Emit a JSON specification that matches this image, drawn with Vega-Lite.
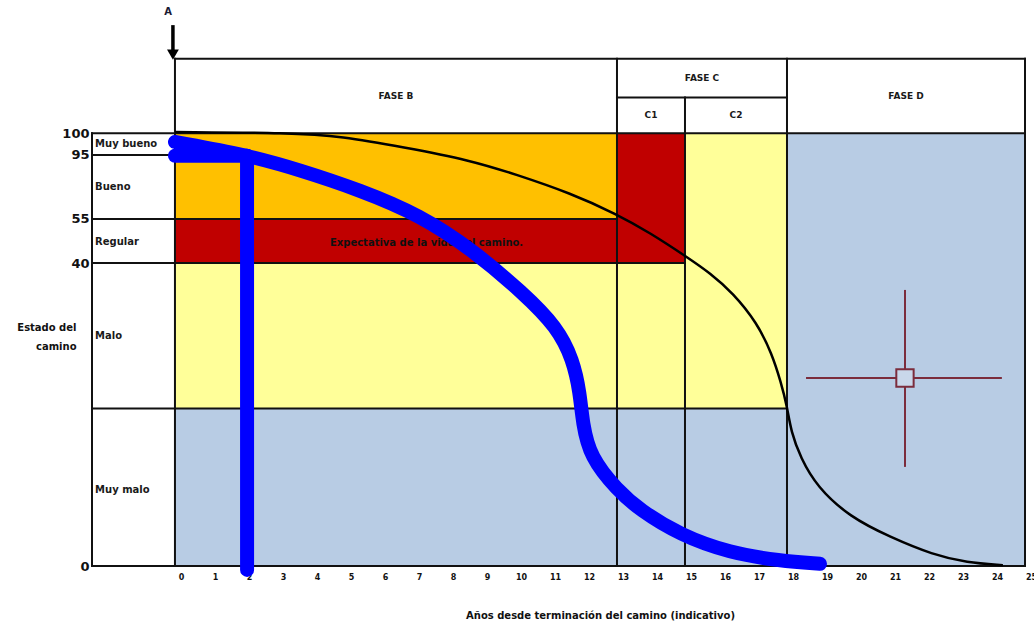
{
  "$schema": "https://vega.github.io/schema/vega-lite/v6.json",
  "width": 933,
  "height": 561,
  "autosize": {"type": "none"},
  "padding": {"left": 92, "top": 5, "right": 9, "bottom": 59},
  "background": "white",
  "config": {
    "view": {"stroke": null},
    "font": "DejaVu Sans",
    "axis": {"labelFont": "DejaVu Sans", "titleFont": "DejaVu Sans"},
    "axisX": {"labelOverlap": false, "labelOffset": 6, "labelFlush": false},
    "text": {"font": "DejaVu Sans"}
  },
  "datasets": {
    "zonas": [
      {"x": 0, "x2": 13, "y": 80.2, "y2": 100, "zona": "Bueno"},
      {"x": 0, "x2": 13, "y": 70, "y2": 80.2, "zona": "Regular"},
      {"x": 13, "x2": 15, "y": 70, "y2": 100, "zona": "Regular"},
      {"x": 0, "x2": 18, "y": 36.4, "y2": 70, "zona": "Malo"},
      {"x": 15, "x2": 18, "y": 70, "y2": 100, "zona": "Malo"},
      {"x": 0, "x2": 18, "y": 0, "y2": 36.4, "zona": "Muy malo"},
      {"x": 18, "x2": 25, "y": 0, "y2": 100, "zona": "Muy malo"}
    ],
    "lineas": [
      {"x": 0, "x2": 25, "y": 117.2, "y2": 117.2},
      {"x": 13, "x2": 18, "y": 108.3, "y2": 108.3},
      {"x": -2.44, "x2": 25, "y": 100, "y2": 100},
      {"x": -2.44, "x2": 0, "y": 95, "y2": 95},
      {"x": -2.44, "x2": 13, "y": 80.2, "y2": 80.2},
      {"x": -2.44, "x2": 15, "y": 70, "y2": 70},
      {"x": -2.44, "x2": 18, "y": 36.4, "y2": 36.4},
      {"x": -2.44, "x2": 25, "y": 0, "y2": 0},
      {"x": -2.44, "x2": -2.44, "y": 0, "y2": 100},
      {"x": 0, "x2": 0, "y": 0, "y2": 117.2},
      {"x": 13, "x2": 13, "y": 0, "y2": 117.2},
      {"x": 15, "x2": 15, "y": 0, "y2": 108.3},
      {"x": 18, "x2": 18, "y": 0, "y2": 117.2},
      {"x": 25, "x2": 25, "y": 0, "y2": 117.2}
    ],
    "negra": [
      {"o": 1, "x": 0, "y": 100.3},
      {"o": 2, "x": 3.4, "y": 100.1},
      {"o": 3, "x": 4.9, "y": 99.3},
      {"o": 4, "x": 6.71, "y": 96.8},
      {"o": 5, "x": 8.68, "y": 93.8},
      {"o": 6, "x": 10.06, "y": 90.4},
      {"o": 7, "x": 11.62, "y": 86.2},
      {"o": 8, "x": 13.0, "y": 81.3},
      {"o": 9, "x": 13.97, "y": 77.0},
      {"o": 10, "x": 15.06, "y": 71.4},
      {"o": 11, "x": 15.74, "y": 67.7},
      {"o": 12, "x": 16.41, "y": 63.1},
      {"o": 13, "x": 17.12, "y": 56.2},
      {"o": 14, "x": 17.56, "y": 49.0},
      {"o": 15, "x": 17.82, "y": 42.5},
      {"o": 16, "x": 18.0, "y": 37.0},
      {"o": 17, "x": 18.12, "y": 31.0},
      {"o": 18, "x": 18.4, "y": 25.0},
      {"o": 19, "x": 18.88, "y": 18.3},
      {"o": 20, "x": 19.85, "y": 11.3},
      {"o": 21, "x": 21.03, "y": 6.7},
      {"o": 22, "x": 22.29, "y": 2.6},
      {"o": 23, "x": 23.29, "y": 0.8},
      {"o": 24, "x": 24.35, "y": 0.2}
    ],
    "azul": [
      {"tramo": "curva", "o": 1, "x": 0, "y": 98.0},
      {"tramo": "curva", "o": 2, "x": 2.12, "y": 95.0},
      {"tramo": "curva", "o": 3, "x": 3.68, "y": 91.5},
      {"tramo": "curva", "o": 4, "x": 5.44, "y": 86.9},
      {"tramo": "curva", "o": 5, "x": 7.21, "y": 81.1},
      {"tramo": "curva", "o": 6, "x": 8.76, "y": 73.0},
      {"tramo": "curva", "o": 7, "x": 10.24, "y": 63.1},
      {"tramo": "curva", "o": 8, "x": 11.24, "y": 55.2},
      {"tramo": "curva", "o": 9, "x": 11.71, "y": 47.6},
      {"tramo": "curva", "o": 10, "x": 11.91, "y": 40.0},
      {"tramo": "curva", "o": 11, "x": 11.99, "y": 33.0},
      {"tramo": "curva", "o": 12, "x": 12.21, "y": 25.2},
      {"tramo": "curva", "o": 13, "x": 13.0, "y": 17.6},
      {"tramo": "curva", "o": 14, "x": 13.68, "y": 12.9},
      {"tramo": "curva", "o": 15, "x": 14.85, "y": 7.2},
      {"tramo": "curva", "o": 16, "x": 16.32, "y": 3.0},
      {"tramo": "curva", "o": 17, "x": 17.79, "y": 1.2},
      {"tramo": "curva", "o": 18, "x": 18.97, "y": 0.5},
      {"tramo": "rama", "o": 1, "x": 0, "y": 94.8},
      {"tramo": "rama", "o": 2, "x": 2.12, "y": 94.8},
      {"tramo": "barra", "o": 1, "x": 2.12, "y": 94.8},
      {"tramo": "barra", "o": 2, "x": 2.121, "y": -0.9}
    ],
    "cruz": [
      {"x": 18.56, "x2": 24.32, "y": 43.45, "y2": 43.45},
      {"x": 21.47, "x2": 21.47, "y": 22.9, "y2": 63.8}
    ],
    "centro": [{"x": 21.47, "y": 43.45}],
    "flecha": [{"x": -0.06, "x2": -0.06, "y": 118.5, "y2": 125.0}],
    "punta": [{"x": -0.06, "y": 118.2}],
    "letraA": [{"x": -0.2, "y": 128.0, "texto": "A"}],
    "encabezados": [
      {"x": 6.5, "y": 108.6, "texto": "FASE B"},
      {"x": 15.5, "y": 112.75, "texto": "FASE C"},
      {"x": 14, "y": 104.15, "texto": "C1"},
      {"x": 16.5, "y": 104.15, "texto": "C2"},
      {"x": 21.5, "y": 108.6, "texto": "FASE D"}
    ],
    "estados": [
      {"x": -2.35, "y": 97.5, "texto": "Muy bueno"},
      {"x": -2.35, "y": 87.6, "texto": "Bueno"},
      {"x": -2.35, "y": 74.9, "texto": "Regular"},
      {"x": -2.35, "y": 53.2, "texto": "Malo"},
      {"x": -2.35, "y": 17.6, "texto": "Muy malo"}
    ],
    "banda": [{"x": 7.4, "y": 74.6, "texto": "Expectativa de la vida del camino."}]
  },
  "layer": [
    {
      "data": {"name": "zonas"},
      "mark": {"type": "rect"},
      "encoding": {
        "x": {
          "field": "x", "type": "quantitative",
          "scale": {"domain": [-2.44, 25], "nice": false, "zero": false},
          "axis": {
            "values": [0,1,2,3,4,5,6,7,8,9,10,11,12,13,14,15,16,17,18,19,20,21,22,23,24,25],
            "tickCount": 28,
            "labelExpr": "datum.value < 0 ? '' : datum.label",
            "grid": false, "domain": false, "ticks": false, "tickSize": 0,
            "labelFontSize": 8, "labelFontWeight": "bold", "labelColor": "#111",
            "labelPadding": 7, "labelOffset": 6, "labelFlush": false, "labelOverlap": false,
            "title": "Años desde terminación del camino (indicativo)",
            "titleFontSize": 10, "titleFontWeight": "bold", "titleColor": "#111",
            "titleX": 508, "titleY": 49, "titleAlign": "center", "titleBaseline": "middle"
          }
        },
        "x2": {"field": "x2"},
        "y": {
          "field": "y", "type": "quantitative",
          "scale": {"domain": [0, 129.65], "nice": false, "zero": false},
          "axis": {
            "values": [0, 70, 80.2, 95, 100],
            "labelExpr": "datum.value == 80.2 ? '55' : datum.value == 70 ? '40' : datum.label",
            "grid": false, "domain": false, "ticks": false, "tickSize": 0,
            "labelFontSize": 13, "labelFontWeight": "bold", "labelColor": "#111",
            "labelPadding": 3, "labelFlush": false, "labelOverlap": false,
            "title": ["Estado del", "camino"],
            "titleAngle": 0, "titleAlign": "right", "titleBaseline": "middle",
            "titleX": -16, "titleY": 322, "titleFontSize": 10, "titleFontWeight": "bold",
            "titleLineHeight": 19, "titleColor": "#111"
          }
        },
        "y2": {"field": "y2"},
        "color": {
          "field": "zona", "type": "nominal",
          "scale": {"domain": ["Bueno", "Regular", "Malo", "Muy malo"], "range": ["#FFC000", "#C00000", "#FFFF99", "#B8CCE4"]},
          "legend": null
        }
      }
    },
    {
      "data": {"name": "lineas"},
      "mark": {"type": "rule", "color": "#111", "strokeWidth": 2, "strokeCap": "square"},
      "encoding": {
        "x": {"field": "x", "type": "quantitative", "scale": {"domain": [-2.44, 25], "nice": false, "zero": false}},
        "x2": {"field": "x2"},
        "y": {"field": "y", "type": "quantitative", "scale": {"domain": [0, 129.65], "nice": false, "zero": false}},
        "y2": {"field": "y2"}
      }
    },
    {
      "data": {"name": "banda"},
      "mark": {"type": "text", "fontSize": 10, "fontWeight": "bold", "color": "#111", "align": "center", "baseline": "middle"},
      "encoding": {
        "x": {"field": "x", "type": "quantitative"},
        "y": {"field": "y", "type": "quantitative"},
        "text": {"field": "texto"}
      }
    },
    {
      "data": {"name": "negra"},
      "mark": {"type": "line", "color": "#000", "strokeWidth": 2.5, "interpolate": "basis"},
      "encoding": {
        "x": {"field": "x", "type": "quantitative"},
        "y": {"field": "y", "type": "quantitative"},
        "order": {"field": "o", "type": "quantitative"}
      }
    },
    {
      "data": {"name": "cruz"},
      "mark": {"type": "rule", "color": "#7b2c3c", "strokeWidth": 2},
      "encoding": {
        "x": {"field": "x", "type": "quantitative"},
        "x2": {"field": "x2"},
        "y": {"field": "y", "type": "quantitative"},
        "y2": {"field": "y2"}
      }
    },
    {
      "data": {"name": "centro"},
      "mark": {"type": "point", "shape": "square", "size": 300, "filled": true, "fill": "#c9d7ea", "stroke": "#7b2c3c", "strokeWidth": 2, "opacity": 1},
      "encoding": {
        "x": {"field": "x", "type": "quantitative"},
        "y": {"field": "y", "type": "quantitative"}
      }
    },
    {
      "data": {"name": "azul"},
      "mark": {"type": "line", "color": "#0000FF", "strokeWidth": 14, "strokeCap": "round", "strokeJoin": "round", "interpolate": "basis"},
      "encoding": {
        "x": {"field": "x", "type": "quantitative"},
        "y": {"field": "y", "type": "quantitative"},
        "detail": {"field": "tramo", "type": "nominal"},
        "order": {"field": "o", "type": "quantitative"}
      }
    },
    {
      "data": {"name": "flecha"},
      "mark": {"type": "rule", "color": "#000", "strokeWidth": 3.5},
      "encoding": {
        "x": {"field": "x", "type": "quantitative"},
        "x2": {"field": "x2"},
        "y": {"field": "y", "type": "quantitative"},
        "y2": {"field": "y2"}
      }
    },
    {
      "data": {"name": "punta"},
      "mark": {"type": "point", "shape": "triangle-down", "size": 140, "filled": true, "color": "#000", "opacity": 1},
      "encoding": {
        "x": {"field": "x", "type": "quantitative"},
        "y": {"field": "y", "type": "quantitative"}
      }
    },
    {
      "data": {"name": "letraA"},
      "mark": {"type": "text", "fontSize": 10, "fontWeight": "bold", "color": "#1a1a33", "align": "center", "baseline": "middle"},
      "encoding": {
        "x": {"field": "x", "type": "quantitative"},
        "y": {"field": "y", "type": "quantitative"},
        "text": {"field": "texto"}
      }
    },
    {
      "data": {"name": "encabezados"},
      "mark": {"type": "text", "fontSize": 9, "fontWeight": "bold", "color": "#1a1a1a", "align": "center", "baseline": "middle"},
      "encoding": {
        "x": {"field": "x", "type": "quantitative"},
        "y": {"field": "y", "type": "quantitative"},
        "text": {"field": "texto"}
      }
    },
    {
      "data": {"name": "estados"},
      "mark": {"type": "text", "fontSize": 10, "fontWeight": "bold", "color": "#1a1a1a", "align": "left", "baseline": "middle"},
      "encoding": {
        "x": {"field": "x", "type": "quantitative"},
        "y": {"field": "y", "type": "quantitative"},
        "text": {"field": "texto"}
      }
    }
  ]
}
